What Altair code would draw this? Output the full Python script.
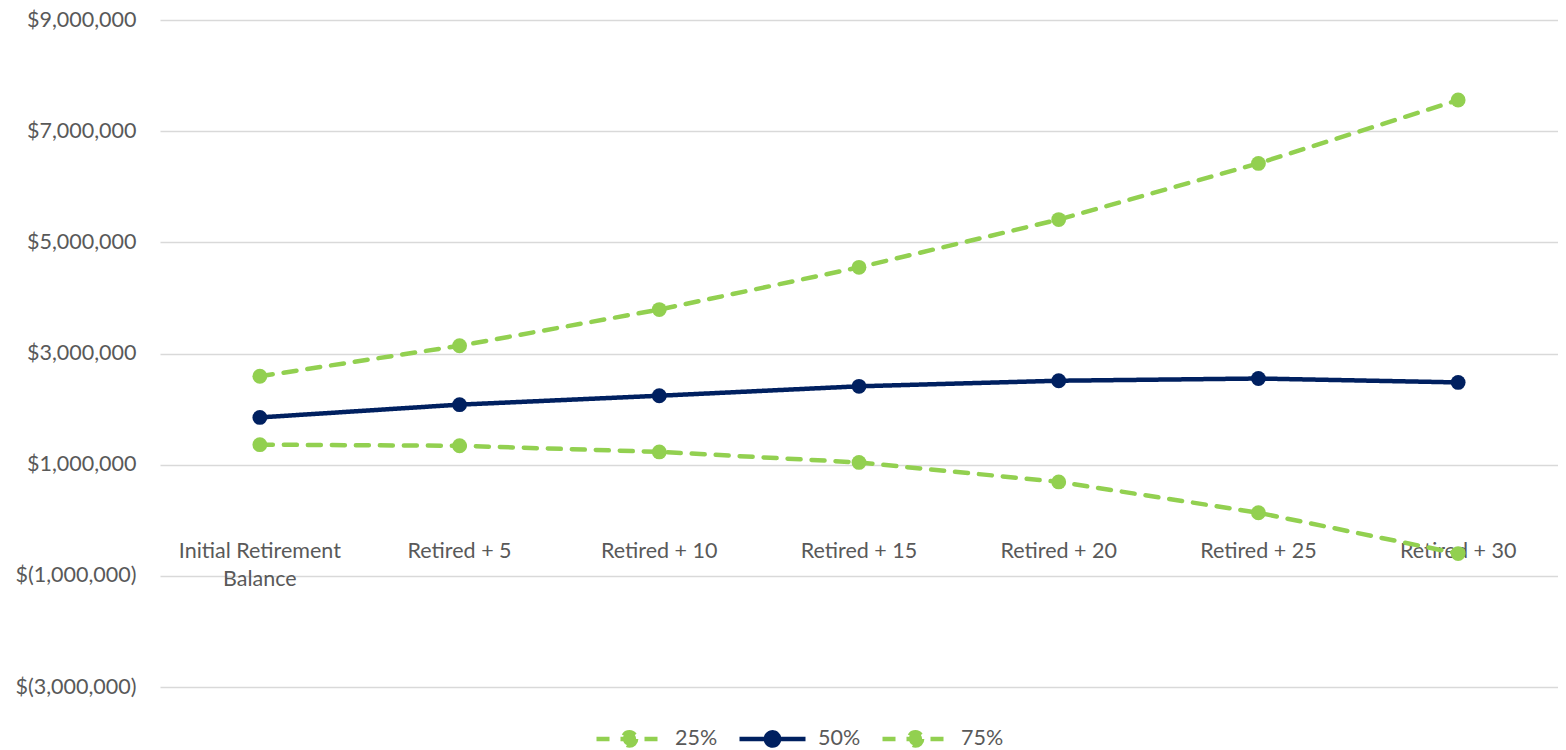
import altair as alt
import pandas as pd

categories = ["Initial Retirement\nBalance", "Retired + 5", "Retired + 10", "Retired + 15",
              "Retired + 20", "Retired + 25", "Retired + 30"]
series_names = ["25%", "50%", "75%"]
p25 = [1360000, 1340000, 1230000, 1040000, 690000, 135000, -600000]
p50 = [1850000, 2080000, 2240000, 2410000, 2510000, 2550000, 2480000]
p75 = [2590000, 3140000, 3790000, 4550000, 5410000, 6420000, 7560000]
y_ticks = [-3000000, -1000000, 1000000, 3000000, 5000000, 7000000, 9000000]

GREEN = "#92D050"
NAVY = "#002060"
TEXT = "#595959"
FONT = "Lato"
FS = 21.5

rows = []
for name, vals in zip(series_names, [p25, p50, p75]):
    for i, (c, v) in enumerate(zip(categories, vals)):
        rows.append({"cat": c, "series": name, "value": v, "order": i})
df = pd.DataFrame(rows)
cat_df = pd.DataFrame({"cat": categories, "zero": [0] * len(categories)})

x_scale = alt.Scale(type="point", domain=categories, padding=0.5)
y_scale = alt.Scale(domain=[-3000000, 9000000], nice=False, zero=False)

legend_path = ("M-1,0L1,0M0.2,0A0.2,0.2,0,1,1,-0.2,0"
               "A0.2,0.2,0,1,1,0.2,0Z")


def make_axis():
    return alt.Axis(values=y_ticks, grid=True, gridColor="#d9d9d9", gridWidth=1.5,
                    domain=False, ticks=False, tickSize=0, labelPadding=24,
                    labelFont=FONT, labelFontSize=FS, labelColor=TEXT, title=None,
                    labelExpr="datum.value < 0 ? '$(' + format(-datum.value, ',') + ')' : '$' + format(datum.value, ',')")


def make_legend():
    return alt.Legend(
        title=None, orient="none", direction="horizontal",
        legendX=434, legendY=683,
        symbolType=legend_path, symbolSize=4356, symbolStrokeWidth=4.5,
        labelFont=FONT, labelFontSize=FS, labelColor=TEXT,
        labelOffset=10, columnPadding=12,
    )


labels = alt.Chart(cat_df).mark_text(
    font=FONT, fontSize=FS, color=TEXT, baseline="top", dy=21,
    lineBreak="\n", lineHeight=28
).encode(
    x=alt.X("cat:N", scale=x_scale, axis=None, sort=categories),
    y=alt.Y("zero:Q", scale=y_scale, axis=make_axis(), title=None),
    text="cat:N",
)

lines = alt.Chart(df).mark_line(
    strokeWidth=4.5, strokeCap="round",
    point=alt.OverlayMarkDef(filled=True, size=220, opacity=1),
).encode(
    x=alt.X("cat:N", scale=x_scale, axis=None, sort=categories),
    y=alt.Y("value:Q", scale=y_scale, title=None, axis=make_axis()),
    color=alt.Color("series:N", scale=alt.Scale(domain=series_names, range=[GREEN, NAVY, GREEN]),
                    legend=make_legend()),
    strokeDash=alt.StrokeDash("series:N",
                              scale=alt.Scale(domain=series_names, range=[[13, 11], [1, 0], [13, 11]]),
                              legend=make_legend()),
    order="order:Q",
)

chart = alt.layer(labels, lines).properties(
    width=1398, height=667,
    autosize=alt.AutoSizeParams(type="none"),
    padding={"left": 152, "top": 12, "right": 0, "bottom": 62},
).configure(
    font=FONT
).configure_view(
    strokeWidth=0, strokeOpacity=0
).configure_axis(
    domain=False, ticks=False
)

chart.save("out.html", embed_options={"renderer": "svg", "actions": False})
